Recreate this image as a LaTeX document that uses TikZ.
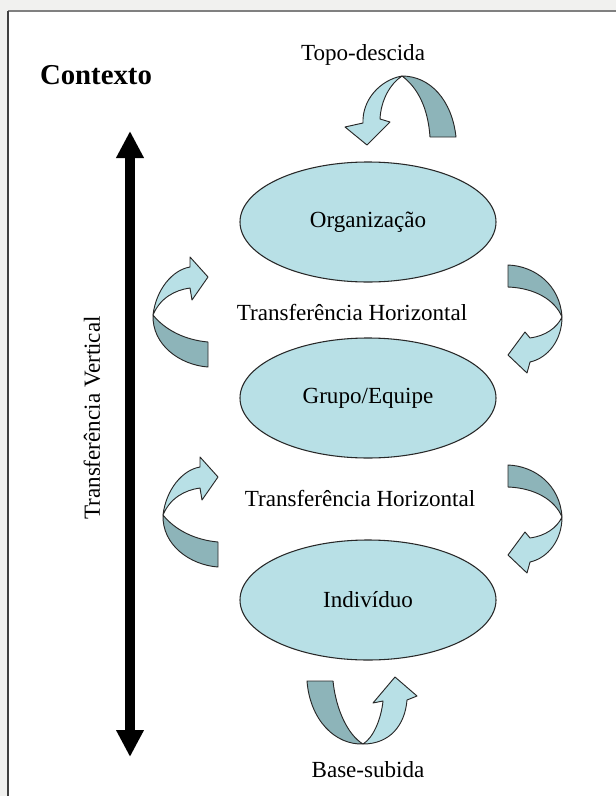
\documentclass[tikz,border=0pt]{standalone}
\usepackage{fontspec}
\setmainfont{Liberation Serif}
\usetikzlibrary{shapes.geometric,arrows.meta}
\definecolor{lightfill}{RGB}{184,224,230}
\definecolor{darkfill}{RGB}{141,180,185}
\definecolor{edgecol}{RGB}{40,40,40}
\definecolor{pagebg}{RGB}{241,241,239}
\tikzset{
  lvl/.style={ellipse, draw=edgecol, fill=lightfill, line width=0.8pt,
    minimum width=192pt, minimum height=90pt, inner sep=0pt,
    font=\fontsize{17.3pt}{20pt}\selectfont},
  lbl/.style={inner sep=0pt, font=\fontsize{17.3pt}{20pt}\selectfont},
  lightband/.style={fill=lightfill, draw=edgecol, line width=0.7pt, line join=round},
  darkband/.style={fill=darkfill, draw=edgecol, line width=0.7pt, line join=round},
  vert/.style={line width=7.5pt, {Triangle[length=20.25pt,width=19.5pt]}-{Triangle[length=20.25pt,width=19.5pt]}}
}
\begin{document}
\begin{tikzpicture}[x=0.75pt,y=-0.75pt]
\useasboundingbox (0,0) rectangle (616,796);
% frame
\fill[pagebg] (0,0) rectangle (616,796);
\fill[white] (8,11) rectangle (616,796);
\draw[line width=1.5pt, gray] (8,11) -- (616,11);
\draw[line width=1.5pt, black!75] (8,11) -- (8,796);

% title
\node[inner sep=0pt, font=\fontsize{21.6pt}{24pt}\selectfont\bfseries] (ctx) at (96,75) {Contexto};

% levels
\node[lvl] (org) at (368,222) {Organização};
\node[lvl] (grp) at (368,398) {Grupo/Equipe};
\node[lvl] (ind) at (368,600) {Indivíduo};

% labels
\node[lbl] (top) at (363,55) {Topo-descida};
\node[lbl] (h1) at (352,312) {Transferência Horizontal};
\node[lbl] (h2) at (360,498) {Transferência Horizontal};
\node[lbl] (bas) at (368,770) {Base-subida};
\node[lbl, rotate=90] (vl) at (92,418) {Transferência Vertical};

% vertical double arrow
\coordinate (vt) at (130,131);
\coordinate (vb) at (130,757);
\draw[vert] (vb) -- (vt);

% top arrow (Topo-descida)
\filldraw[darkband] (430,137) -- (456,137) .. controls (452,100) and (430,76) .. (402,76)
  .. controls (418,88) and (428,108) .. (430,137) -- cycle;
\filldraw[lightband] (402,76) .. controls (380,80) and (362,100) .. (363,123)
  -- (345,127) -- (367,145) -- (390,122) -- (380,119)
  .. controls (381,100) and (390,84) .. (402,76) -- cycle;

% bottom arrow (Base-subida)
\filldraw[darkband] (307,681) -- (333,681) .. controls (336,710) and (348,735) .. (363,744)
  .. controls (335,745) and (310,720) .. (307,681) -- cycle;
\filldraw[lightband] (363,744) .. controls (373,738) and (381,720) .. (383,701)
  -- (373,703) -- (395,677) -- (417,696) -- (407,700)
  .. controls (405,725) and (390,744) .. (363,744) -- cycle;

% left arrows
\foreach \dx/\dy in {0/0, 10/200} {
\begin{scope}[shift={(\dx,\dy)}]
\filldraw[darkband] (153,315) .. controls (165,330) and (185,340) .. (208,342)
  -- (208,367) .. controls (180,365) and (152,345) .. (153,315) -- cycle;
\filldraw[lightband] (153,315) .. controls (156,290) and (172,270) .. (190,267)
  -- (190,257) -- (208,277) -- (192,300) -- (190,288)
  .. controls (175,290) and (160,298) .. (153,315) -- cycle;
\end{scope}
}

% right arrows
\foreach \dy in {0, 200} {
\begin{scope}[shift={(0,\dy)}]
\filldraw[darkband] (508,265) .. controls (535,266) and (560,285) .. (562,317)
  .. controls (555,300) and (535,288) .. (508,287) -- cycle;
\filldraw[lightband] (562,317) .. controls (562,340) and (548,358) .. (530,362)
  -- (527,373) -- (508,355) -- (525,332) -- (530,338)
  .. controls (545,336) and (557,328) .. (562,317) -- cycle;
\end{scope}
}
\end{tikzpicture}
\end{document}
